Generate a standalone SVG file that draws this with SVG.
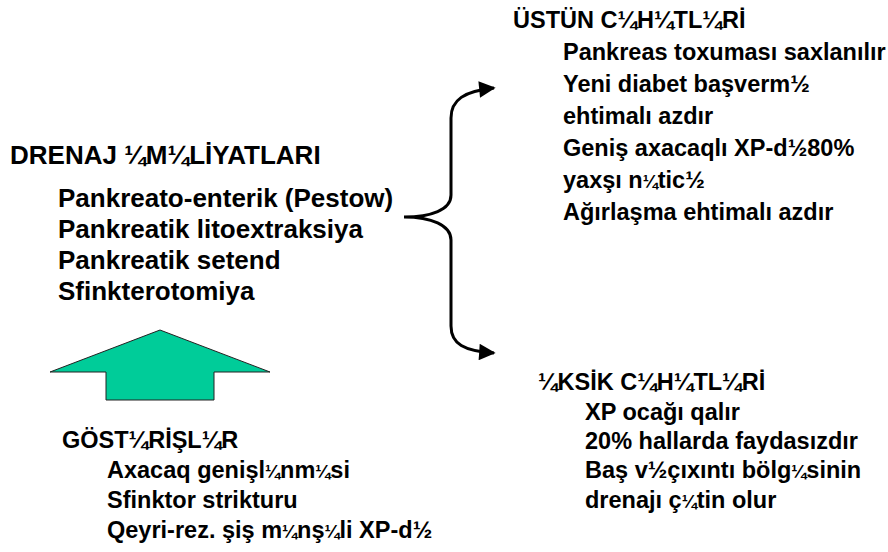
<svg xmlns="http://www.w3.org/2000/svg" width="888" height="552" viewBox="0 0 888 552">
<defs>
<style>
text{font-family:"Liberation Sans",Arial,sans-serif;font-weight:bold;fill:#000}
.l{font-size:26px}
.r{font-size:23.5px}
.f{font-size:18px}
.c{fill:none;stroke:#000;stroke-width:3}
</style>
<marker id="ah" viewBox="0 0 10 10" refX="9" refY="5" markerWidth="6.5" markerHeight="5.5" orient="auto" markerUnits="strokeWidth">
<path d="M0,0 L10,5 L0,10 z" fill="#000"/>
</marker>
</defs>
<rect width="888" height="552" fill="#fff"/>
<g id="connectors">
<path class="c" d="M451,118 C451,100 464,91 494,88" marker-end="url(#ah)"/>
<path class="c" d="M451,118 L451,195 C451,210 431,217 404,217 C431,217 451,225 451,240 L451,326" />
<path class="c" d="M451,326 C451,344 464,351 494,353" marker-end="url(#ah)"/>
</g>
<g id="arrow">
<polygon points="160,330 270,372 214,372 214,400 106,400 106,372 50,372" fill="#00CC99" stroke="#222" stroke-width="1"/>
</g>
<g id="drenaj">
<text class="l" x="10" y="164">DRENAJ ¼M¼LİYATLARI</text>
<text class="l" x="58" y="207">Pankreato-enterik (Pestow)</text>
<text class="l" x="58" y="238">Pankreatik litoextraksiya</text>
<text class="l" x="58" y="269">Pankreatik setend</text>
<text class="l" x="58" y="300">Sfinkterotomiya</text>
</g>
<g id="ustun">
<text class="r" x="513" y="28">ÜSTÜN  C¼H¼TL¼Rİ</text>
<text class="r" x="563" y="60">Pankreas toxuması saxlanılır</text>
<text class="r" x="563" y="92">Yeni diabet başverm½</text>
<text class="r" x="563" y="124">ehtimalı azdır</text>
<text class="r" x="563" y="156">Geniş axacaqlı XP-d½80%</text>
<text class="r" x="563" y="188">yaxşı n<tspan class="f">¼</tspan>tic½</text>
<text class="r" x="563" y="220">Ağırlaşma ehtimalı azdır</text>
</g>
<g id="eksik">
<text class="r" x="538" y="390">¼KSİK C¼H¼TL¼Rİ</text>
<text class="r" x="585" y="420">XP ocağı qalır</text>
<text class="r" x="585" y="449">20% hallarda faydasızdır</text>
<text class="r" x="585" y="478">Baş v½çıxıntı bölg<tspan class="f">¼</tspan>sinin</text>
<text class="r" x="585" y="508">drenajı ç<tspan class="f">¼</tspan>tin olur</text>
</g>
<g id="gosterisler">
<text class="r" x="62" y="448">GÖST¼RİŞL¼R</text>
<text class="r" x="107" y="478">Axacaq genişl<tspan class="f">¼</tspan>nm<tspan class="f">¼</tspan>si</text>
<text class="r" x="107" y="508">Sfinktor strikturu</text>
<text class="r" x="107" y="538">Qeyri-rez. şiş m<tspan class="f">¼</tspan>nş<tspan class="f">¼</tspan>li XP-d½</text>
</g>
</svg>
